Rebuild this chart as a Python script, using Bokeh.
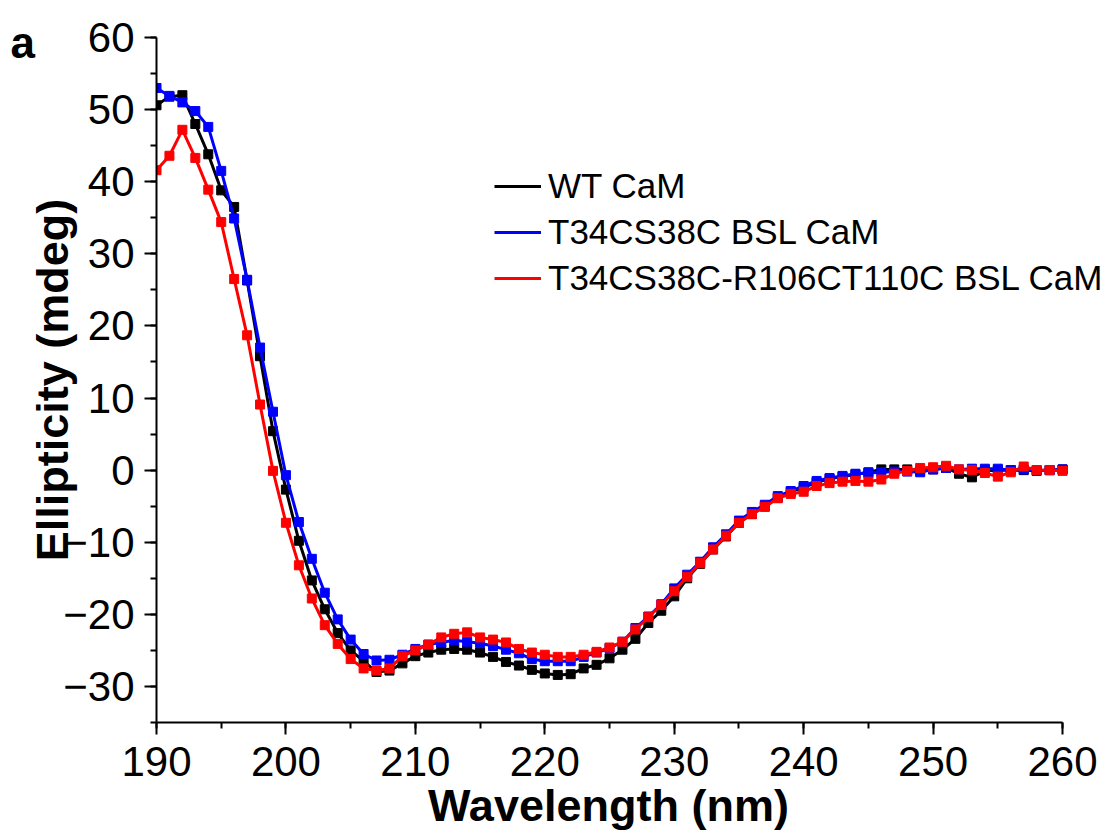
from bokeh.plotting import figure
from bokeh.models import Legend, LegendItem, FixedTicker, Label, Range1d
from bokeh.embed import file_html
from bokeh.resources import INLINE

wavelength = list(range(190, 261))

wt_cam = [50.6, 51.8, 52.0, 48.0, 43.8, 38.8, 36.5, 26.3, 15.8, 5.4,
          -2.7, -9.8, -15.3, -19.3, -22.6, -25.0, -26.5, -28.0, -27.8, -26.8,
          -25.8, -25.3, -24.9, -24.8, -24.9, -25.3, -25.9, -26.6, -27.1, -27.7,
          -28.2, -28.4, -28.3, -27.5, -27.0, -26.1, -24.9, -23.4, -21.2, -19.5,
          -17.5, -15.0, -13.0, -11.0, -9.2, -7.3, -6.1, -5.0, -3.8, -3.0,
          -2.4, -1.7, -1.2, -0.9, -0.6, -0.3, 0.1, 0.1, 0.1, -0.1,
          0.1, 0.3, -0.5, -1.0, -0.1, 0.0, 0.0, 0.0, -0.1, 0.0, 0.1]

bsl_cam = [53.0, 51.9, 51.0, 49.8, 47.6, 41.5, 34.9, 26.4, 17.0, 8.1,
           -0.7, -7.2, -12.3, -17.0, -20.7, -23.5, -25.5, -26.4, -26.3, -25.6,
           -24.8, -24.2, -23.9, -23.6, -23.8, -24.0, -24.4, -24.9, -25.4, -26.2,
           -26.5, -26.5, -26.5, -25.9, -25.3, -24.7, -23.8, -21.9, -20.3, -18.6,
           -16.4, -14.5, -12.7, -10.7, -8.9, -7.0, -5.8, -4.8, -3.6, -2.9,
           -2.2, -1.5, -1.1, -0.8, -0.5, -0.4, -0.3, -0.2, -0.2, -0.3,
           0.1, 0.3, 0.1, 0.2, 0.2, 0.2, 0.0, 0.1, 0.0, 0.0, 0.1]

double_bsl_cam = [41.6, 43.6, 47.2, 43.3, 38.9, 34.4, 26.5, 18.7, 9.1, -0.1,
                  -7.3, -13.2, -17.8, -21.5, -24.1, -26.2, -27.5, -27.8, -27.5, -25.8,
                  -25.0, -24.2, -23.2, -22.7, -22.5, -23.2, -23.5, -23.9, -24.8, -25.3,
                  -25.6, -25.9, -25.9, -25.6, -25.2, -24.6, -23.8, -22.1, -20.4, -18.7,
                  -16.8, -14.8, -12.9, -11.0, -9.1, -7.3, -6.1, -5.1, -3.9, -3.3,
                  -3.0, -2.2, -1.8, -1.6, -1.5, -1.6, -1.3, -0.5, -0.1, 0.3,
                  0.4, 0.6, 0.1, 0.0, -0.4, -0.9, -0.3, 0.5, 0.0, 0.0, -0.1]

series_names = ["WT CaM", "T34CS38C BSL CaM", "T34CS38C-R106CT110C BSL CaM"]
series_values = [wt_cam, bsl_cam, double_bsl_cam]
series_colors = ["#000000", "#0000ff", "#ff0000"]

x_ticks = [190, 200, 210, 220, 230, 240, 250, 260]
y_ticks = [-30, -20, -10, 0, 10, 20, 30, 40, 50, 60]

FONT = "Liberation Sans"

# frame runs to the right edge so the legend is not clipped; the axis stops at 260
x_end = 190 + 70 * (1110 - 155) / (1062 - 155)

p = figure(width=1110, height=834, output_backend="svg", toolbar_location=None,
           x_range=Range1d(190, x_end), y_range=Range1d(-35, 60),
           min_border_left=155, min_border_right=0, min_border_top=37,
           min_border_bottom=112)
p.outline_line_color = None
p.grid.visible = False
p.background_fill_color = "white"
p.border_fill_color = "white"

line_renderers = []
for vals, col in zip(series_values, series_colors):
    r = p.line(wavelength, vals, line_color=col, line_width=3)
    p.scatter(wavelength, vals, marker="square", size=9, fill_color=col,
              line_color=col)
    line_renderers.append(r)

for ax in (p.xaxis[0], p.yaxis[0]):
    ax.axis_line_width = 2
    ax.axis_line_color = "black"
    ax.major_tick_line_width = 2
    ax.minor_tick_line_width = 2
    ax.major_tick_out = 12
    ax.major_tick_in = 0
    ax.minor_tick_out = 6
    ax.minor_tick_in = 0
    ax.major_label_text_font = FONT
    ax.major_label_text_font_size = "42px"
    ax.major_label_text_color = "black"
    ax.axis_label_text_font = FONT
    ax.axis_label_text_font_size = "45px"
    ax.axis_label_text_font_style = "bold"
    ax.axis_label_text_color = "black"

p.xaxis.bounds = (190, 260)
p.xaxis.ticker = FixedTicker(ticks=x_ticks, minor_ticks=list(range(190, 261, 5)))
p.yaxis.ticker = FixedTicker(ticks=y_ticks, minor_ticks=list(range(-35, 61, 5)))
# trailing no-break spaces re-centre the label under the 190-260 span
p.xaxis.axis_label = "Wavelength (nm)" + "\u00a0" * 4
p.yaxis.axis_label = "Ellipticity (mdeg)"
p.xaxis.major_label_standoff = 12
p.xaxis.axis_label_standoff = 1
p.yaxis.major_label_standoff = 10
p.yaxis.axis_label_standoff = -18

legend = Legend(items=[LegendItem(label=n, renderers=[r])
                       for n, r in zip(series_names, line_renderers)],
                location=(338, 424), label_text_font=FONT,
                label_text_font_size="35px", label_text_color="black",
                glyph_width=47, glyph_height=40,
                label_height=40, spacing=6, padding=0, margin=0,
                label_standoff=7, border_line_color=None,
                background_fill_alpha=0)
p.add_layout(legend)

p.add_layout(Label(x=10, y=680, x_units="screen", y_units="screen", text="a",
                   text_font=FONT, text_font_size="44px", text_font_style="bold",
                   text_baseline="middle", text_color="black"), "left")

open("out.html", "w").write(file_html(p, INLINE))
